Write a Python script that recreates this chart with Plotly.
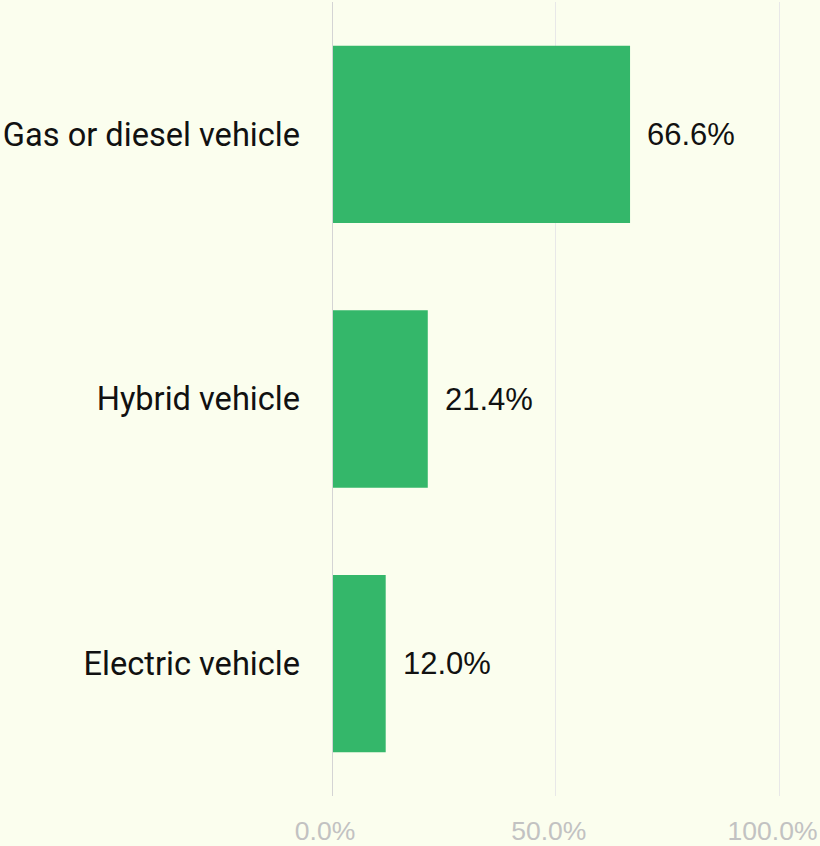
import plotly.graph_objects as go

categories = ["Gas or diesel vehicle", "Hybrid vehicle", "Electric vehicle"]
shares = [66.6, 21.4, 12.0]
x_ticks = [0, 50, 100]
x_tick_labels = ["0.0%", "50.0%", "100.0%"]

BG = "#FBFEEE"
GREEN = "#34B76A"

fig = go.Figure()
fig.add_trace(go.Bar(
    y=categories,
    x=shares,
    orientation="h",
    marker=dict(color=GREEN, line=dict(width=0)),
    hoverinfo="skip",
))

for c, v in zip(categories, shares):
    fig.add_annotation(
        x=v, y=c, text=f"{v:.1f}%", showarrow=False,
        xanchor="left", yanchor="middle", xshift=15,
        font=dict(family="Liberation Sans, Arial, sans-serif", size=31, color="#111111"),
    )

fig.update_layout(
    width=820, height=846,
    margin=dict(l=332, r=35.5, t=2, b=50, autoexpand=False),
    paper_bgcolor=BG, plot_bgcolor=BG,
    bargap=0.33,
    showlegend=False,
    xaxis=dict(
        range=[0, 101], tickvals=x_ticks, ticktext=x_tick_labels,
        showgrid=True, gridcolor="#E8E8E8", gridwidth=1,
        zeroline=False, showline=False,
        tickfont=dict(family="Liberation Sans, Arial, sans-serif", size=26.5, color="#C2C2C2"),
        ticklabelstandoff=16,
        ticklabelshift=-7,
        ticklabeloverflow="allow",
        automargin=False,
        fixedrange=True,
    ),
    yaxis=dict(
        autorange="reversed",
        showgrid=False, zeroline=False, showline=False,
        tickfont=dict(family="Roboto, sans-serif", size=32.6, color="#111111"),
        ticklabelstandoff=31,
        automargin=False,
        fixedrange=True,
    ),
)

fig.add_shape(type="line", xref="x", yref="paper", x0=0, x1=0, y0=0, y1=1,
              line=dict(color="#D4D4D4", width=2), layer="above")

fig.write_html(
    "out.html",
    config={"displayModeBar": False},
    post_script="document.body.style.margin='0';document.body.style.background='" + BG + "';",
)
